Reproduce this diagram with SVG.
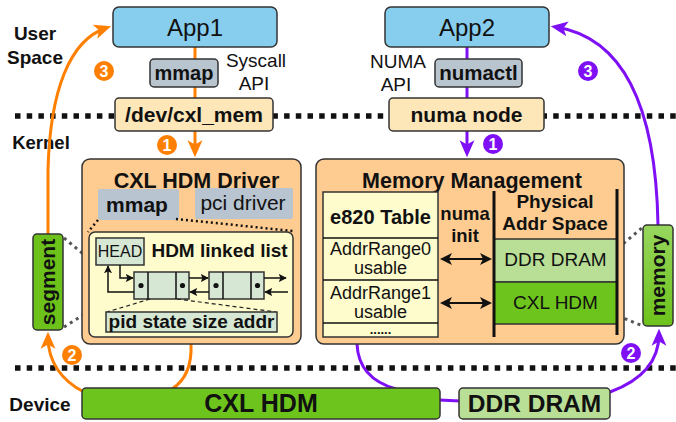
<svg xmlns="http://www.w3.org/2000/svg" width="676" height="422" viewBox="0 0 676 422">
<defs>
<style>
text{font-family:"Liberation Sans",Arial,sans-serif;fill:#111}
.b{font-weight:bold}
.m{text-anchor:middle}
.box{stroke:#333;stroke-width:1.5}
.sep{stroke:#111;stroke-width:5.5;stroke-dasharray:5.5 6.2;fill:none}
.or{stroke:#ff7f00;stroke-width:3;fill:none}
.pu{stroke:#7f10f5;stroke-width:3;fill:none}
.thin{stroke:#111;stroke-width:1.5;fill:none}
.gdot{stroke:#555;stroke-width:3;stroke-dasharray:3 4;fill:none}
.bdot{stroke:#111;stroke-width:2.5;stroke-dasharray:2 3;fill:none}
.dash{stroke:#222;stroke-width:1.2;stroke-dasharray:4 3;fill:none}
.num{font-weight:bold;font-size:16px;fill:#fff;text-anchor:middle}
</style>
<linearGradient id="gm" x1="0" y1="0" x2="0" y2="1">
<stop offset="0" stop-color="#98d65e"/>
<stop offset="1" stop-color="#6cc21a"/>
</linearGradient>
<marker id="ao" viewBox="0 0 16 16" refX="11" refY="8" markerWidth="17" markerHeight="17" markerUnits="userSpaceOnUse" orient="auto">
<path d="M0,1 L16,8 L0,15 L4,8 z" fill="#ff7f00"/>
</marker>
<marker id="ap" viewBox="0 0 16 16" refX="11" refY="8" markerWidth="17" markerHeight="17" markerUnits="userSpaceOnUse" orient="auto">
<path d="M0,1 L16,8 L0,15 L4,8 z" fill="#7f10f5"/>
</marker>
<marker id="ab" viewBox="0 0 10 10" refX="9" refY="5" markerWidth="8" markerHeight="8" markerUnits="userSpaceOnUse" orient="auto">
<path d="M0,0 L10,5 L0,10 L2,5 z" fill="#111"/>
</marker>
<marker id="ab2" viewBox="0 0 12 12" refX="10" refY="6" markerWidth="12" markerHeight="12" markerUnits="userSpaceOnUse" orient="auto-start-reverse">
<path d="M0,0 L12,6 L0,12 L3,6 z" fill="#111"/>
</marker>
</defs>

<g id="separators">
<line class="sep" x1="15" y1="116" x2="676" y2="116"/>
<line class="sep" x1="15" y1="368" x2="676" y2="368"/>
</g>

<g id="labels">
<text class="b m" x="35" y="40" font-size="19">User</text>
<text class="b m" x="35" y="64" font-size="19">Space</text>
<text class="b m" x="41" y="149" font-size="18.5">Kernel</text>
<text class="b m" x="40" y="411" font-size="19">Device</text>
<text class="m" x="256" y="67" font-size="19">Syscall</text>
<text class="m" x="254" y="90" font-size="19">API</text>
<text class="m" x="398" y="68" font-size="19">NUMA</text>
<text class="m" x="396" y="91" font-size="19">API</text>
</g>

<g id="connectors">
<line class="or" x1="195" y1="47" x2="195" y2="98"/>
<line class="or" x1="195" y1="131" x2="195" y2="152" marker-end="url(#ao)"/>
<line class="pu" x1="467" y1="47" x2="467" y2="98"/>
<line class="pu" x1="467" y1="131" x2="467" y2="152" marker-end="url(#ap)"/>
<path class="or" d="M48 234 L48 170 C50 90 70 40 106 28" marker-end="url(#ao)"/>
<path class="pu" d="M658 225 C656 110 625 38 556 27" marker-end="url(#ap)"/>
<path class="or" d="M84 392 C62 381 48 362 48 337" marker-end="url(#ao)"/>
<path class="pu" d="M610 392 C640 381 659 362 659 334" marker-end="url(#ap)"/>
<path class="or" d="M191 344 C192 366 186 380 172 389"/>
<path class="pu" d="M357 344 C358 370 375 383 396 389"/>
<path class="pu" d="M439 400 L460 401"/>
<path class="gdot" d="M64 238 L88 258"/>
<path class="gdot" d="M64 327 L88 312"/>
<path class="gdot" d="M618 248 L643 227"/>
<path class="gdot" d="M618 316 L643 326"/>
</g>

<g id="badges">
<circle cx="167" cy="145" r="10" fill="#ff7f00"/><text class="num" x="167" y="150.5">1</text>
<circle cx="493" cy="144" r="10" fill="#7f10f5"/><text class="num" x="493" y="149.5">1</text>
<circle cx="104" cy="71" r="10" fill="#ff7f00"/><text class="num" x="104" y="76.5">3</text>
<circle cx="588" cy="71" r="10" fill="#7f10f5"/><text class="num" x="588" y="76.5">3</text>
<circle cx="72" cy="355" r="10" fill="#ff7f00"/><text class="num" x="72" y="360.5">2</text>
<circle cx="631" cy="353" r="10" fill="#7f10f5"/><text class="num" x="631" y="358.5">2</text>
</g>

<g id="app1">
<rect class="box" x="113" y="7" width="164" height="40" rx="6" fill="#87cdee"/>
<text class="m" x="195" y="35.5" font-size="24">App1</text>
</g>
<g id="mmap-api">
<rect class="box" x="150" y="59" width="68" height="28" rx="4" fill="#b8c4ce"/>
<text class="b m" x="184" y="80" font-size="20">mmap</text>
</g>
<g id="dev-cxl-mem">
<rect class="box" x="115" y="98" width="158" height="33" rx="4" fill="#fde6b8"/>
<text class="b m" x="194" y="122" font-size="21">/dev/cxl_mem</text>
</g>

<g id="app2">
<rect class="box" x="385" y="7" width="164" height="40" rx="6" fill="#87cdee"/>
<text class="m" x="467" y="35.5" font-size="24">App2</text>
</g>
<g id="numactl">
<rect class="box" x="435" y="59" width="87" height="28" rx="4" fill="#b8c4ce"/>
<text class="b m" x="478.5" y="80" font-size="20.5">numactl</text>
</g>
<g id="numa-node">
<rect class="box" x="389" y="98" width="155" height="33" rx="4" fill="#fde6b8"/>
<text class="b m" x="466.5" y="122" font-size="21">numa node</text>
</g>

<g id="cxl-hdm-driver">
<rect class="box" x="82" y="159" width="219" height="185" rx="8" fill="#fecc90"/>
<text class="b m" x="196.5" y="188" font-size="21.5">CXL HDM Driver</text>
<rect x="98" y="189" width="81" height="31" rx="2" fill="#b8c4d0"/>
<text class="b m" x="137" y="212" font-size="21">mmap</text>
<rect x="195" y="188" width="98" height="31" rx="2" fill="#b8c4d0"/>
<text class="m" x="243" y="210" font-size="21">pci driver</text>
<path class="bdot" d="M98 220 L88 232"/>
<path class="bdot" d="M176 219 L293 231"/>
</g>

<g id="hdm-linked-list">
<rect class="box" x="89" y="232" width="204" height="105" rx="6" fill="#fefbcc"/>
<rect class="box" x="96" y="238" width="48" height="27" fill="#d6e8d4"/>
<text class="m" x="120" y="257" font-size="16">HEAD</text>
<text class="b m" x="219.5" y="257" font-size="19">HDM linked list</text>
<rect class="box" x="134" y="272" width="55" height="27" fill="#d6e8d4"/>
<line class="thin" x1="148" y1="272" x2="148" y2="299"/>
<line class="thin" x1="176" y1="272" x2="176" y2="299"/>
<circle cx="141" cy="285.5" r="2.6" fill="#111"/>
<circle cx="182.5" cy="285.5" r="2.6" fill="#111"/>
<rect class="box" x="209" y="272" width="55" height="27" fill="#d6e8d4"/>
<line class="thin" x1="223" y1="272" x2="223" y2="299"/>
<line class="thin" x1="251" y1="272" x2="251" y2="299"/>
<circle cx="216" cy="285.5" r="2.6" fill="#111"/>
<circle cx="257.5" cy="285.5" r="2.6" fill="#111"/>
<path class="thin" d="M120 265 V278 H133" marker-end="url(#ab)"/>
<path class="thin" d="M189 278 H208" marker-end="url(#ab)"/>
<path class="thin" d="M209 292 H190" marker-end="url(#ab)"/>
<path class="thin" d="M134 292 H108 V266" marker-end="url(#ab)"/>
<path class="thin" d="M264 278 H286" marker-end="url(#ab)"/>
<path class="thin" d="M288 292 H265" marker-end="url(#ab)"/>
<path class="dash" d="M150 299 L107 312"/>
<path class="dash" d="M177 299 L276 312"/>
<rect class="box" x="106" y="312" width="171" height="20" fill="#d6e8d4"/>
<text class="b m" x="191.5" y="327.5" font-size="19">pid state size addr</text>
</g>

<g id="segment">
<rect class="box" x="33" y="234" width="30" height="96" rx="4" fill="#6cc21a"/>
<text class="b m" transform="translate(48,282) rotate(-90)" x="0" y="7" font-size="21">segment</text>
</g>

<g id="memory-management">
<rect class="box" x="316" y="159" width="308" height="185" rx="8" fill="#fecc90"/>
<text class="b m" x="472" y="188" font-size="21.5">Memory Management</text>
</g>

<g id="e820-table">
<rect class="box" x="323" y="192" width="115" height="145" fill="#fefbcc"/>
<line class="thin" x1="323" y1="238" x2="438" y2="238"/>
<line class="thin" x1="323" y1="280" x2="438" y2="280"/>
<line class="thin" x1="323" y1="323" x2="438" y2="323"/>
<text class="b m" x="380.5" y="224" font-size="20">e820 Table</text>
<text class="m" x="380.5" y="255" font-size="18">AddrRange0</text>
<text class="m" x="380.5" y="274" font-size="18">usable</text>
<text class="m" x="380.5" y="299" font-size="18">AddrRange1</text>
<text class="m" x="380.5" y="318" font-size="18">usable</text>
<text class="b m" x="380.5" y="334" font-size="13">......</text>
</g>

<g id="numa-init">
<text class="b m" x="465" y="219.5" font-size="18.5">numa</text>
<text class="b m" x="465" y="242" font-size="18.5">init</text>
<line stroke="#111" stroke-width="2.2" x1="442" y1="259" x2="490" y2="259" marker-start="url(#ab2)" marker-end="url(#ab2)"/>
<line stroke="#111" stroke-width="2.2" x1="442" y1="303" x2="490" y2="303" marker-start="url(#ab2)" marker-end="url(#ab2)"/>
</g>

<g id="physical-addr-space">
<text class="b m" x="555" y="208" font-size="19">Physical</text>
<text class="b m" x="555" y="230" font-size="19">Addr Space</text>
<rect class="box" x="494" y="239" width="123" height="43" fill="#b9df97"/>
<rect class="box" x="494" y="282" width="123" height="42" fill="#6dc41c"/>
<text class="m" x="555.5" y="266" font-size="19">DDR DRAM</text>
<text class="m" x="555.5" y="309" font-size="19">CXL HDM</text>
<line stroke="#111" stroke-width="3" x1="494" y1="191" x2="494" y2="337"/>
<line stroke="#111" stroke-width="3" x1="617" y1="189" x2="617" y2="335"/>
</g>

<g id="memory">
<rect class="box" x="643" y="225" width="30" height="101" rx="4" fill="url(#gm)"/>
<text class="b m" transform="translate(658,275.5) rotate(-90)" x="0" y="7" font-size="21">memory</text>
</g>

<g id="device-cxl-hdm">
<rect class="box" x="82" y="388" width="358" height="31" rx="4" fill="#6dc41c"/>
<text class="b m" x="261" y="412" font-size="25">CXL HDM</text>
</g>
<g id="device-ddr-dram">
<rect class="box" x="459" y="388" width="151" height="31" rx="4" fill="#b9df97"/>
<text class="b m" x="534.5" y="412" font-size="24.5">DDR DRAM</text>
</g>
</svg>
